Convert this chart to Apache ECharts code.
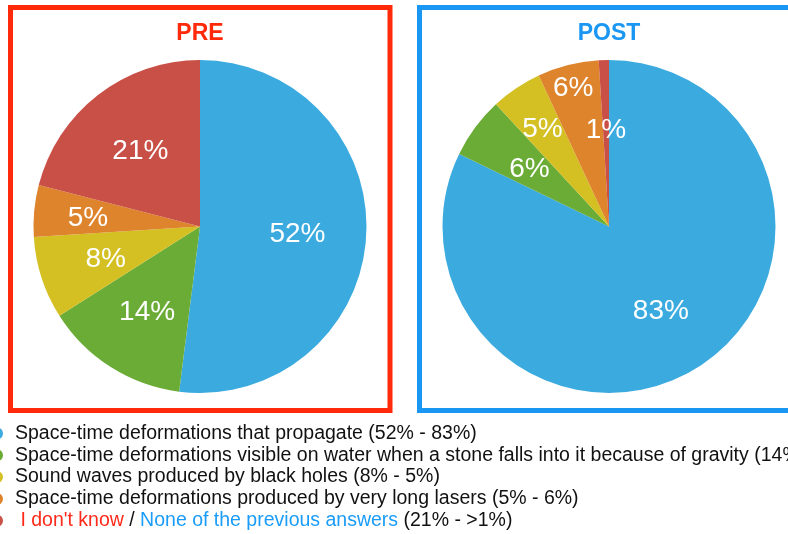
<!DOCTYPE html>
<html>
<head>
<meta charset="utf-8">
<script src="https://cdn.jsdelivr.net/npm/echarts@6/dist/echarts.min.js"></script>
<style>
  html, body { margin: 0; padding: 0; background: #fff; }
  #chart { width: 788px; height: 534px; }
</style>
</head>
<body>
<div id="chart"></div>
<script>
// answer categories (legend order = slice order)
const categories = [
  'Space-time deformations that propagate',
  'Space-time deformations visible on water when a stone falls into it because of gravity',
  'Sound waves produced by black holes',
  'Space-time deformations produced by very long lasers',
  "I don't know / None of the previous answers"
]
const preValues = [52, 14, 8, 5, 21]
const postValues = [83, 6, 5, 6, 1]
const rangeLabels = ['(52% - 83%)', '(14% - 6%)', '(8% - 5%)', '(5% - 6%)', '(21% - >1%)']

const sliceColors = ['#3aaadf', '#6aac36', '#d4c022', '#dd842d', '#c95046']
const FONT = '"Liberation Sans", Arial, Helvetica, sans-serif'

// label distance from centre as a fraction of radius
const preLabelRadius = [0.566, 0.572, 0.575, 0.652, 0.564]
const postLabelRadius = [0.566, 0.574, 0.692, 0.841, 0.569]

const R = 166.5
const preCenter = [200, 226.5]
const postCenter = [609, 226.5]

const chart = echarts.init(document.getElementById('chart'))

// push the inside labels out from the default half-radius
const makeLayout = (center, radii) => (params) => {
  const rect = params.labelRect
  const lx = rect.x + rect.width / 2
  const ly = rect.y + rect.height / 2
  const f = radii[params.dataIndex] / 0.5 - 1
  return { dx: f * (lx - center[0]), dy: f * (ly - center[1]) + 2 }
}

const makeSeries = (name, values, center, radii) => ({
  name,
  type: 'pie',
  center,
  radius: [0, R],
  startAngle: 90,
  clockwise: true,
  silent: true,
  animation: false,
  data: values.map((v, i) => ({ name: categories[i], value: v })),
  itemStyle: { borderWidth: 0 },
  label: {
    show: true,
    position: 'inside',
    formatter: '{c}%',
    color: '#fff',
    fontSize: 28,
    fontFamily: FONT
  },
  labelLine: { show: false },
  labelLayout: makeLayout(center, radii),
  emphasis: { disabled: true }
})

chart.setOption({
  backgroundColor: '#fff',
  color: sliceColors,
  animation: false,
  title: [
    {
      text: 'PRE',
      left: preCenter[0],
      top: 22,
      textAlign: 'center',
      padding: 0,
      textStyle: { color: '#ff2a0a', fontSize: 23, fontWeight: 'bold', fontFamily: FONT }
    },
    {
      text: 'POST',
      left: postCenter[0],
      top: 22,
      textAlign: 'center',
      padding: 0,
      textStyle: { color: '#1a96f3', fontSize: 23, fontWeight: 'bold', fontFamily: FONT }
    }
  ],
  legend: {
    orient: 'vertical',
    left: -9,
    top: 423.5,
    padding: 0,
    itemGap: 1.8,
    itemWidth: 12,
    itemHeight: 12,
    icon: 'circle',
    selectedMode: false,
    data: categories,
    textStyle: {
      color: '#111',
      fontSize: 19.5,
      lineHeight: 20,
      fontFamily: FONT,
      padding: [0, 0, 0, 7],
      rich: {
        r: { color: '#ff2a1a', fontSize: 19.5, lineHeight: 20, fontFamily: FONT },
        b: { color: '#1a9cf8', fontSize: 19.5, lineHeight: 20, fontFamily: FONT }
      }
    },
    formatter: (name) => {
      const i = categories.indexOf(name)
      if (i === categories.length - 1) {
        return " {r|I don't know} / {b|None of the previous answers} " + rangeLabels[i]
      }
      return name + ' ' + rangeLabels[i]
    }
  },
  graphic: [
    {
      type: 'rect',
      shape: { x: 10.5, y: 7.5, width: 379.5, height: 403 },
      style: { fill: 'none', stroke: '#ff2a0a', lineWidth: 5 },
      silent: true
    },
    {
      type: 'rect',
      shape: { x: 419.5, y: 7.5, width: 420, height: 403 },
      style: { fill: 'none', stroke: '#1a96f3', lineWidth: 5 },
      silent: true
    }
  ],
  series: [
    makeSeries('PRE', preValues, preCenter, preLabelRadius),
    makeSeries('POST', postValues, postCenter, postLabelRadius)
  ]
})
</script>
</body>
</html>
